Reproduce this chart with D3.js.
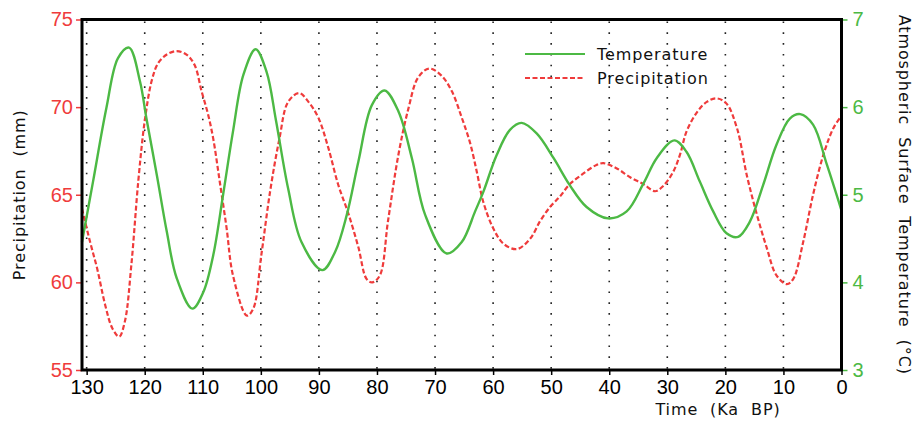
<!DOCTYPE html>
<html>
<head>
<meta charset="utf-8">
<script src="https://cdn.jsdelivr.net/npm/d3@7"></script>
<style>
  html, body { margin: 0; padding: 0; background: #fff; }
  svg { display: block; }
  .tick-num { font-family: "Liberation Sans", Arial, sans-serif; font-size: 20px; }
  .label { font-family: "DejaVu Sans", sans-serif; font-size: 16px; letter-spacing: 0.9px; white-space: pre; fill: #111; }
</style>
</head>
<body>
<div id="chart"></div>
<script>
// ages in ka BP
const tempAge = [130.8, 128.9, 126.6, 124.6, 122.7, 120.8, 119.7, 117.9, 116.2, 114.5,
  111.8, 109.9, 108.2, 106.5, 104.8, 103.0, 100.9, 99.0, 97.4, 95.3,
  93.0, 89.4, 87.2, 85.2, 83.2, 80.9, 78.7, 76.3, 74.0, 71.7,
  68.0, 65.4, 63.1, 61.7, 59.4, 57.1, 55.1, 52.5, 49.6, 46.8,
  43.9, 40.2, 37.0, 34.1, 31.8, 28.8, 26.7, 24.4, 22.1, 19.8,
  17.8, 15.8, 13.5, 11.2, 8.9, 7.1, 4.9, 2.5, 0];
const tempValues = [4.46, 5.15, 5.99, 6.56, 6.68, 6.29, 5.87, 5.22, 4.58, 4.05,
  3.70, 3.89, 4.31, 5.00, 5.72, 6.37, 6.66, 6.40, 5.85, 5.07,
  4.46, 4.14, 4.35, 4.77, 5.38, 6.02, 6.19, 5.95, 5.42, 4.77,
  4.33, 4.46, 4.81, 5.03, 5.45, 5.74, 5.82, 5.70, 5.42, 5.11,
  4.86, 4.73, 4.81, 5.13, 5.42, 5.62, 5.49, 5.15, 4.81, 4.56,
  4.52, 4.69, 5.11, 5.57, 5.87, 5.92, 5.80, 5.34, 4.82];

const precipAge = [130.8, 129.4, 128.2, 126.8, 125.6, 124.4, 123.4, 122.3, 121.1, 120.0,
  118.8, 117.7, 116.2, 114.5, 112.8, 111.4, 110.2, 109.1, 108.2, 107.1,
  105.9, 104.8, 102.4, 101.3, 99.9, 98.4, 96.8, 95.3, 93.4, 91.8,
  90.1, 88.4, 86.7, 84.9, 83.2, 81.8, 80.8, 79.5, 78.1, 76.3,
  74.6, 72.9, 71.0, 68.9, 67.1, 65.4, 64.0, 62.8, 61.7, 60.0,
  58.2, 55.9, 53.6, 51.9, 50.2, 48.5, 46.8, 44.5, 42.2, 41.0,
  38.7, 36.4, 34.1, 32.1, 30.7, 29.0, 27.8, 26.7, 24.9, 23.2,
  21.5, 19.8, 18.0, 16.3, 14.6, 12.9, 11.2, 9.4, 8.3, 6.6,
  4.9, 3.1, 1.4, 0];
const precipValues = [64.2, 62.3, 60.8, 58.7, 57.4, 56.9, 57.8, 61.0, 65.8, 69.2,
  71.5, 72.5, 73.0, 73.2, 73.0, 72.4, 70.9, 69.6, 68.2, 65.8,
  63.1, 60.4, 58.1, 58.5, 61.6, 65.2, 68.2, 70.3, 70.8, 70.3,
  69.4, 67.7, 65.6, 63.9, 62.0, 60.2, 60.0, 60.4, 63.5, 67.3,
  69.9, 71.7, 72.2, 71.8, 70.9, 69.4, 68.0, 66.3, 64.6, 63.1,
  62.2, 61.9, 62.5, 63.5, 64.3, 64.9, 65.6, 66.2, 66.7, 66.8,
  66.5, 66.0, 65.6, 65.2, 65.5, 66.3, 67.3, 68.6, 69.7, 70.3,
  70.5, 70.2, 68.8, 66.1, 63.9, 62.0, 60.4, 59.9, 60.2, 62.3,
  65.0, 67.3, 68.8, 69.5];

const xTicks = [130, 120, 110, 100, 90, 80, 70, 60, 50, 40, 30, 20, 10, 0];
const precipTicks = [55, 60, 65, 70, 75];
const tempTicks = [3, 4, 5, 6, 7];

const width = 916;
const height = 422;
const margin = { top: 19.5, right: 74.5, bottom: 52, left: 82 };
const green = '#4cb944';
const red = '#ef3b3b';

const svg = d3.select('#chart').append('svg')
  .attr('width', width)
  .attr('height', height);

const x = d3.scaleLinear().domain([130.8, 0]).range([margin.left, width - margin.right]);
const yP = d3.scaleLinear().domain([55, 75]).range([height - margin.bottom, margin.top]);
const yT = d3.scaleLinear().domain([3, 7]).range([height - margin.bottom, margin.top]);

const bottom = height - margin.bottom;

// dotted verticals
svg.append('g')
  .selectAll('line')
  .data(xTicks.filter((t) => t > 0))
  .join('line')
  .attr('x1', (t) => x(t))
  .attr('x2', (t) => x(t))
  .attr('y1', margin.top + 2)
  .attr('y2', bottom)
  .attr('stroke', '#222')
  .attr('stroke-width', 1.6)
  .attr('stroke-dasharray', '1.6,9.2');

const precipData = precipAge.map((age, i) => ({ age, value: precipValues[i] }));
const tempData = tempAge.map((age, i) => ({ age, value: tempValues[i] }));

const smooth = d3.curveCatmullRom.alpha(0.5);

svg.append('path')
  .datum(precipData)
  .attr('fill', 'none')
  .attr('stroke', red)
  .attr('stroke-width', 2.2)
  .attr('stroke-dasharray', '5,2.5')
  .attr('d', d3.line().x((d) => x(d.age)).y((d) => yP(d.value)).curve(smooth));

svg.append('path')
  .datum(tempData)
  .attr('fill', 'none')
  .attr('stroke', green)
  .attr('stroke-width', 2.4)
  .attr('d', d3.line().x((d) => x(d.age)).y((d) => yT(d.value)).curve(smooth));

// axes
const fmt = d3.format('d');

const axisB = svg.append('g')
  .attr('transform', `translate(0,${bottom})`)
  .call(d3.axisBottom(x).tickValues(xTicks).tickFormat(fmt).tickSize(5).tickSizeOuter(0).tickPadding(5));
axisB.select('.domain').remove();
axisB.selectAll('.tick line').attr('stroke', '#000').attr('stroke-width', 1.5);
axisB.selectAll('.tick text').attr('class', 'tick-num').attr('fill', '#000');

const axisL = svg.append('g')
  .attr('transform', `translate(${margin.left},0)`)
  .call(d3.axisLeft(yP).tickValues(precipTicks).tickFormat(fmt).tickSize(6).tickSizeOuter(0).tickPadding(3));
axisL.select('.domain').remove();
axisL.selectAll('.tick line').attr('stroke', red).attr('stroke-width', 1.5);
axisL.selectAll('.tick text').attr('class', 'tick-num').attr('fill', red);

const axisR = svg.append('g')
  .attr('transform', `translate(${width - margin.right},0)`)
  .call(d3.axisRight(yT).tickValues(tempTicks).tickFormat(fmt).tickSize(6).tickSizeOuter(0).tickPadding(5));
axisR.select('.domain').remove();
axisR.selectAll('.tick line').attr('stroke', green).attr('stroke-width', 1.5);
axisR.selectAll('.tick text').attr('class', 'tick-num').attr('fill', green);

// frame
svg.append('rect')
  .attr('x', margin.left)
  .attr('y', margin.top)
  .attr('width', width - margin.right - margin.left)
  .attr('height', bottom - margin.top)
  .attr('fill', 'none')
  .attr('stroke', '#000')
  .attr('stroke-width', 3);

// titles
svg.append('text')
  .attr('class', 'label')
  .attr('transform', `translate(25,${(margin.top + bottom) / 2}) rotate(-90)`)
  .attr('text-anchor', 'middle')
  .text('Precipitation  (mm)');

svg.append('text')
  .attr('class', 'label')
  .attr('transform', `translate(899,${(margin.top + bottom) / 2}) rotate(90)`)
  .attr('text-anchor', 'middle')
  .text('Atmospheric  Surface  Temperature  (°C)');

svg.append('text')
  .attr('class', 'label')
  .attr('x', 718)
  .attr('y', 415)
  .attr('text-anchor', 'middle')
  .text('Time  (Ka  BP)');

// legend
const legend = svg.append('g').attr('transform', 'translate(525,0)');
const legendItems = [
  { name: 'Temperature', color: green, dash: null, y: 54 },
  { name: 'Precipitation', color: red, dash: '5,2.5', y: 78 }
];
legendItems.forEach((item) => {
  legend.append('line')
    .attr('x1', 0).attr('x2', 60)
    .attr('y1', item.y).attr('y2', item.y)
    .attr('stroke', item.color)
    .attr('stroke-width', 2.2)
    .attr('stroke-dasharray', item.dash);
  legend.append('text')
    .attr('class', 'label')
    .attr('x', 72)
    .attr('y', item.y + 6)
    .text(item.name);
});
</script>
</body>
</html>
